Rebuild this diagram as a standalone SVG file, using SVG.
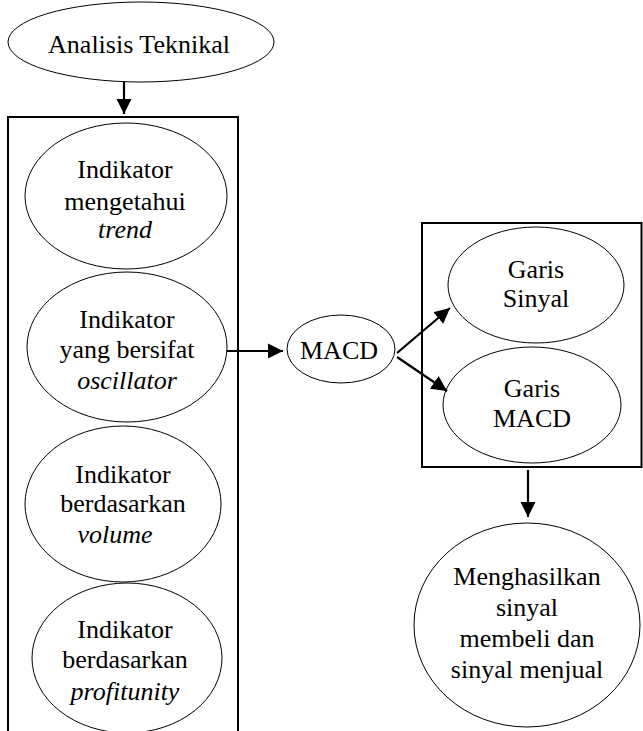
<svg xmlns="http://www.w3.org/2000/svg" width="643" height="731" viewBox="0 0 643 731">
<defs>
<marker id="ah" viewBox="0 0 10 10" refX="10" refY="5" markerWidth="8" markerHeight="8" markerUnits="userSpaceOnUse" orient="auto">
<path d="M0,0 L10,5 L0,10 z" fill="#000"/>
</marker>
<marker id="ah2" viewBox="0 0 10 10" refX="10" refY="5" markerWidth="7" markerHeight="7" orient="auto">
<path d="M0,0 L10,5 L0,10 z" fill="#000"/>
</marker>
</defs>
<style>
.e{fill:#fff;stroke:#000;stroke-width:1}
.b{fill:none;stroke:#000;stroke-width:2}
.c{fill:none;stroke:#000;stroke-width:2.2;marker-end:url(#ah2)}
text{font-family:"Liberation Serif","Times New Roman",serif;font-size:26px;fill:#000;text-anchor:middle}
.i{font-style:italic}
</style>
<rect width="643" height="731" fill="#fff"/>
<g id="box-left"><path class="b" d="M8,731 V117 H238 V731"/></g>
<g id="box-right"><rect class="b" x="422" y="223" width="219.5" height="244"/></g>
<g id="analisis"><ellipse class="e" cx="141" cy="42" rx="133" ry="40"/><text x="139" y="53">Analisis Teknikal</text></g>
<g id="ind-trend"><ellipse class="e" cx="126" cy="196" rx="101" ry="73"/><text x="125" y="178">Indikator</text><text x="125" y="210">mengetahui</text><text class="i" x="125" y="238">trend</text></g>
<g id="ind-osc"><ellipse class="e" cx="127" cy="347" rx="100" ry="75"/><text x="127" y="328">Indikator</text><text x="127" y="358">yang bersifat</text><text class="i" x="127" y="389">oscillator</text></g>
<g id="ind-vol"><ellipse class="e" cx="123" cy="504" rx="98" ry="78"/><text x="123" y="483">Indikator</text><text x="123" y="512">berdasarkan</text><text class="i" x="115" y="543">volume</text></g>
<g id="ind-prof"><ellipse class="e" cx="127" cy="658" rx="95" ry="75"/><text x="125" y="638">Indikator</text><text x="125" y="668">berdasarkan</text><text class="i" x="125" y="700">profitunity</text></g>
<g id="macd"><ellipse class="e" cx="341" cy="349" rx="54" ry="34"/><text x="339" y="359">MACD</text></g>
<g id="garis-sinyal"><ellipse class="e" cx="536" cy="285" rx="88" ry="58"/><text x="536" y="278">Garis</text><text x="536" y="307">Sinyal</text></g>
<g id="garis-macd"><ellipse class="e" cx="532" cy="405" rx="89" ry="58"/><text x="532" y="397">Garis</text><text x="532" y="427">MACD</text></g>
<g id="hasil"><ellipse class="e" cx="527" cy="625" rx="113" ry="102"/><text x="527" y="585">Menghasilkan</text><text x="527" y="616">sinyal</text><text x="527" y="647">membeli dan</text><text x="527" y="678">sinyal menjual</text></g>
<g id="connectors">
<line class="c" x1="124" y1="82" x2="124" y2="114"/>
<line class="c" x1="227" y1="351" x2="283" y2="351"/>
<line class="c" x1="397" y1="353" x2="450" y2="308"/>
<line class="c" x1="397" y1="357" x2="447" y2="391"/>
<line class="c" x1="528" y1="470" x2="528" y2="517"/>
</g>
</svg>
